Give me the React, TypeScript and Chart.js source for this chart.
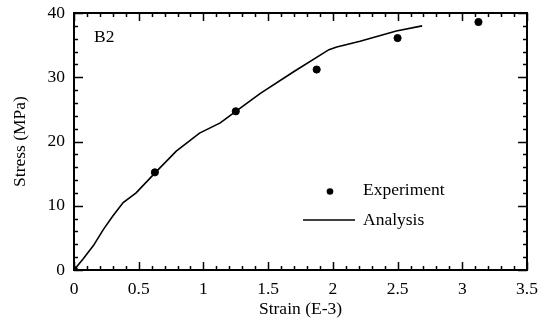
import React, { useEffect, useRef } from "react";
import { Chart, registerables } from "chart.js";

Chart.register(...registerables);

// Measured points for specimen B2
const experimentStrain = [0, 0.625, 1.25, 1.875, 2.5, 3.125];
const experimentStress = [0, 15.2, 24.7, 31.2, 36.1, 38.6];

// Analysis curve
const analysisStrain = [0, 0.07, 0.15, 0.23, 0.3, 0.38, 0.48, 0.63, 0.79, 0.97, 1.13, 1.25, 1.44, 1.7, 1.97, 2.03, 2.21, 2.49, 2.69];
const analysisStress = [0, 1.7, 3.8, 6.4, 8.4, 10.5, 12.0, 15.2, 18.5, 21.3, 22.9, 24.7, 27.5, 30.9, 34.3, 34.7, 35.6, 37.2, 38.0];

const xTicks = [0, 0.5, 1, 1.5, 2, 2.5, 3, 3.5];
const yTicks = [0, 10, 20, 30, 40];
const xMinorStep = 0.1;
const yMinorStep = 2;

const FONT = "'Liberation Serif', 'Times New Roman', serif";
const FONT_SIZE = 17.5;

const framePlugin = {
  id: "frameTicks",
  afterDraw(chart: any) {
    const { ctx, chartArea: a, scales } = chart;
    const xs = scales.x;
    const ys = scales.y;
    ctx.save();
    ctx.strokeStyle = "#000";
    ctx.lineWidth = 2;
    ctx.strokeRect(a.left, a.top, a.right - a.left, a.bottom - a.top);
    ctx.lineWidth = 1.5;
    ctx.beginPath();
    // x ticks (bottom & top), pointing inward
    for (let v = 0; v <= 3.5 + 1e-9; v += xMinorStep) {
      const major = Math.abs(v / 0.5 - Math.round(v / 0.5)) < 1e-6;
      const len = major ? 8 : 4;
      const px = Math.round(xs.getPixelForValue(v)) + 0.5;
      ctx.moveTo(px, a.bottom);
      ctx.lineTo(px, a.bottom - len);
      ctx.moveTo(px, a.top);
      ctx.lineTo(px, a.top + len);
    }
    // y ticks (left & right), pointing inward
    for (let v = 0; v <= 40 + 1e-9; v += yMinorStep) {
      const major = Math.abs(v / 10 - Math.round(v / 10)) < 1e-6;
      const len = major ? 9 : 4;
      const py = Math.round(ys.getPixelForValue(v)) + 0.5;
      ctx.moveTo(a.left, py);
      ctx.lineTo(a.left + len, py);
      ctx.moveTo(a.right, py);
      ctx.lineTo(a.right - len, py);
    }
    ctx.stroke();

    // specimen label
    ctx.fillStyle = "#000";
    ctx.font = `${FONT_SIZE}px ${FONT}`;
    ctx.textBaseline = "middle";
    ctx.textAlign = "left";
    ctx.fillText("B2", a.left + 20, a.top + 24);

    // legend
    const lx = a.left + 289;
    ctx.fillText("Experiment", lx, a.top + 177);
    ctx.fillText("Analysis", lx, a.top + 207);
    ctx.beginPath();
    ctx.arc(a.left + 256, a.top + 178.5, 3.3, 0, Math.PI * 2);
    ctx.fill();
    ctx.lineWidth = 1.6;
    ctx.beginPath();
    ctx.moveTo(a.left + 229, a.top + 207);
    ctx.lineTo(a.left + 281, a.top + 207);
    ctx.stroke();
    ctx.restore();
  },
};

export default function App() {
  const ref = useRef<HTMLCanvasElement>(null);
  useEffect(() => {
    document.body.style.margin = "0";
    const chart = new Chart(ref.current!, {
      type: "scatter",
      data: {
        datasets: [
          {
            label: "Analysis",
            data: analysisStrain.map((x, i) => ({ x, y: analysisStress[i] })),
            showLine: true,
            borderColor: "#000",
            borderWidth: 1.6,
            pointRadius: 0,
            tension: 0,
          },
          {
            label: "Experiment",
            data: experimentStrain.map((x, i) => ({ x, y: experimentStress[i] })),
            backgroundColor: "#000",
            borderColor: "#000",
            pointRadius: 3.6,
            showLine: false,
          },
        ],
      },
      options: {
        responsive: false,
        animation: false,
        layout: { padding: { top: 13, right: 22, left: 0, bottom: 0 } },
        plugins: { legend: { display: false }, tooltip: { enabled: false } },
        scales: {
          x: {
            type: "linear",
            min: 0,
            max: 3.5,
            grid: { display: false, drawTicks: false },
            border: { display: false },
            afterBuildTicks: (s: any) => {
              s.ticks = xTicks.map((v) => ({ value: v }));
            },
            afterFit: (s: any) => {
              s.height = 56;
              s.paddingLeft = 0;
              s.paddingRight = 0;
            },
            ticks: {
              color: "#000",
              font: { family: FONT, size: FONT_SIZE },
              padding: 9,
              maxRotation: 0,
              autoSkip: false,
              callback: (v: any) => String(v),
            },
            title: {
              display: true,
              text: "Strain (E-3)",
              color: "#000",
              font: { family: FONT, size: FONT_SIZE },
              padding: { top: 0, bottom: 6 },
            },
          },
          y: {
            type: "linear",
            min: 0,
            max: 40,
            grid: { display: false, drawTicks: false },
            border: { display: false },
            afterBuildTicks: (s: any) => {
              s.ticks = yTicks.map((v) => ({ value: v }));
            },
            afterFit: (s: any) => {
              s.width = 74;
              s.paddingTop = 0;
              s.paddingBottom = 0;
            },
            ticks: {
              color: "#000",
              font: { family: FONT, size: FONT_SIZE },
              padding: 9,
              autoSkip: false,
            },
            title: {
              display: true,
              text: "Stress (MPa)",
              color: "#000",
              font: { family: FONT, size: FONT_SIZE },
              padding: { top: 10, bottom: 0 },
            },
          },
        },
      },
      plugins: [framePlugin],
    });
    return () => chart.destroy();
  }, []);
  return <canvas ref={ref} width={549} height={326} style={{ display: "block" }} />;
}
